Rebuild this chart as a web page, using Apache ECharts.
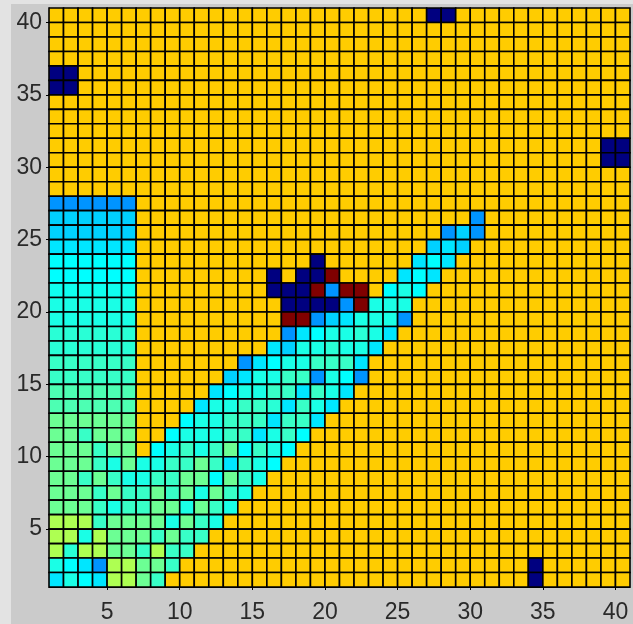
<!DOCTYPE html>
<html>
<head>
<meta charset="utf-8">
<script src="https://cdn.jsdelivr.net/npm/echarts@6/dist/echarts.min.js"></script>
<style>
html, body { margin: 0; padding: 0; background: #e3e3e3; }
#chart { position: absolute; left: 11px; top: 4px; width: 622px; height: 620px; }
</style>
</head>
<body>
<div id="chart"></div>
<script>
// level codes (jet colormap, 0..1)
var levels = {
    B: 0.0, b: 0.27, c: 0.33, d: 0.35, C: 0.375, e: 0.39, t: 0.40,
    u: 0.415, a: 0.43, h: 0.45, g: 0.48, y: 0.545, o: 0.675, R: 1.0
};

// one string per row, top row (40) first, columns 1..40 left to right
var rows = [
    'oooooooooo oooooooooo ooooooBBoo oooooooooo', // 40
    'oooooooooo oooooooooo oooooooooo oooooooooo',
    'oooooooooo oooooooooo oooooooooo oooooooooo',
    'oooooooooo oooooooooo oooooooooo oooooooooo',
    'BBoooooooo oooooooooo oooooooooo oooooooooo', // 36
    'BBoooooooo oooooooooo oooooooooo oooooooooo',
    'oooooooooo oooooooooo oooooooooo oooooooooo',
    'oooooooooo oooooooooo oooooooooo oooooooooo',
    'oooooooooo oooooooooo oooooooooo oooooooooo',
    'oooooooooo oooooooooo oooooooooo ooooooooBB', // 31
    'oooooooooo oooooooooo oooooooooo ooooooooBB',
    'oooooooooo oooooooooo oooooooooo oooooooooo',
    'oooooooooo oooooooooo oooooooooo oooooooooo',
    'bbbbbboooo oooooooooo oooooooooo oooooooooo', // 27
    'ccccccoooo oooooooooo ooooooooob oooooooooo',
    'ccccccoooo oooooooooo ooooooobcb oooooooooo',
    'ddddddoooo oooooooooo oooooocdco oooooooooo',
    'CCCCCCoooo ooooooooBo ooooodCdoo oooooooooo', // 23
    'CCCCCCoooo oooooBoBBR oooodCdooo oooooooooo',
    'eeeeeeoooo oooooBBBRb RRoCtCoooo oooooooooo',
    'ttttttoooo ooooooBBBB bRtttooooo oooooooooo', // 20
    'ttttttoooo ooooooRRbc dtttbooooo oooooooooo',
    'uuuuuuoooo oooooobdCt tutdoooooo oooooooooo',
    'uuuuuuoooo ooooodcttu ttdooooooo oooooooooo',
    'aaaaaaoooo ooobdCttaa adoooooooo oooooooooo', // 16
    'aaaaaaoooo oocdttaabt Cboooooooo oooooooooo',
    'hhhhhhoooo odCttaadat dooooooooo oooooooooo',
    'hhhhhhoooo dttaaudatd oooooooooo oooooooooo',
    'ggggggoooC ttaaadaado oooooooooo oooooooooo', // 12
    'ggagggooCt ttaadtaCoo oooooooooo oooooooooo',
    'gggaggoCta tagCatCooo oooooooooo oooooooooo', // 10
    'gggatgttaa gadatCoooo oooooooooo oooooooooo',
    'ggagattaag gCgatooooo oooooooooo oooooooooo',
    'gggagaagag tgatoooooo oooooooooo oooooooooo',
    'gggataaggt gatooooooo oooooooooo oooooooooo',
    'yyyaggggtg atoooooooo oooooooooo oooooooooo', // 5
    'yytygggaga aooooooooo oooooooooo oooooooooo',
    'yuyyggayaa oooooooooo oooooooooo oooooooooo',
    'tCdbyyggao oooooooooo oooooooooo oooBoooooo',
    'dtCdyygaoo oooooooooo oooooooooo oooBoooooo'  // 1
];

var tickValues = [5, 10, 15, 20, 25, 30, 35, 40];

// jet colormap stops at 0, 1/8, ... 1
var jet = ['#000080', '#0000ff', '#0080ff', '#00ffff', '#80ff80',
           '#ffff00', '#ff8000', '#ff0000', '#800000'];

var cells = [];
for (var i = 0; i < rows.length; i++) {
    var line = rows[i].replace(/ /g, '');
    if (line.length !== 40) throw new Error('row ' + (40 - i) + ' has ' + line.length);
    for (var j = 0; j < 40; j++) {
        cells.push([j + 1, 40 - i, levels[line[j]]]);
    }
}

var chart = echarts.init(document.getElementById('chart'));

var labelStyle = {
    color: '#2a2a2a',
    fontSize: 23,
    fontFamily: 'Liberation Sans, Arial, sans-serif'
};

var option = {
    backgroundColor: '#cbcbcb',
    animation: false,
    grid: { left: 38, top: 4, width: 581, height: 582 },
    visualMap: {
        show: false,
        type: 'continuous',
        min: 0,
        max: 1,
        dimension: 2,
        inRange: { color: jet }
    },
    xAxis: {
        type: 'value',
        min: 1,
        max: 41,
        axisLine: { show: true, lineStyle: { color: '#000' } },
        axisTick: { show: true, customValues: tickValues, length: 3, lineStyle: { color: '#000' } },
        axisLabel: Object.assign({ customValues: tickValues, margin: 14 }, labelStyle),
        splitLine: { show: false }
    },
    yAxis: {
        type: 'value',
        min: 1,
        max: 41,
        axisLine: { show: true, lineStyle: { color: '#000' } },
        axisTick: { show: true, customValues: tickValues, length: 3, lineStyle: { color: '#000' } },
        axisLabel: Object.assign({ customValues: tickValues, margin: 7 }, labelStyle),
        splitLine: { show: false }
    },
    series: [{
        type: 'custom',
        encode: { x: 0, y: 1 },
        data: cells,
        renderItem: function (params, api) {
            var x = api.value(0);
            var y = api.value(1);
            var p0 = api.coord([x, y + 1]);
            var p1 = api.coord([x + 1, y]);
            return {
                type: 'rect',
                shape: { x: p0[0], y: p0[1], width: p1[0] - p0[0], height: p1[1] - p0[1] },
                style: { fill: api.visual('color'), stroke: '#000', lineWidth: 1.6 }
            };
        }
    }]
};

chart.setOption(option);
</script>
</body>
</html>
